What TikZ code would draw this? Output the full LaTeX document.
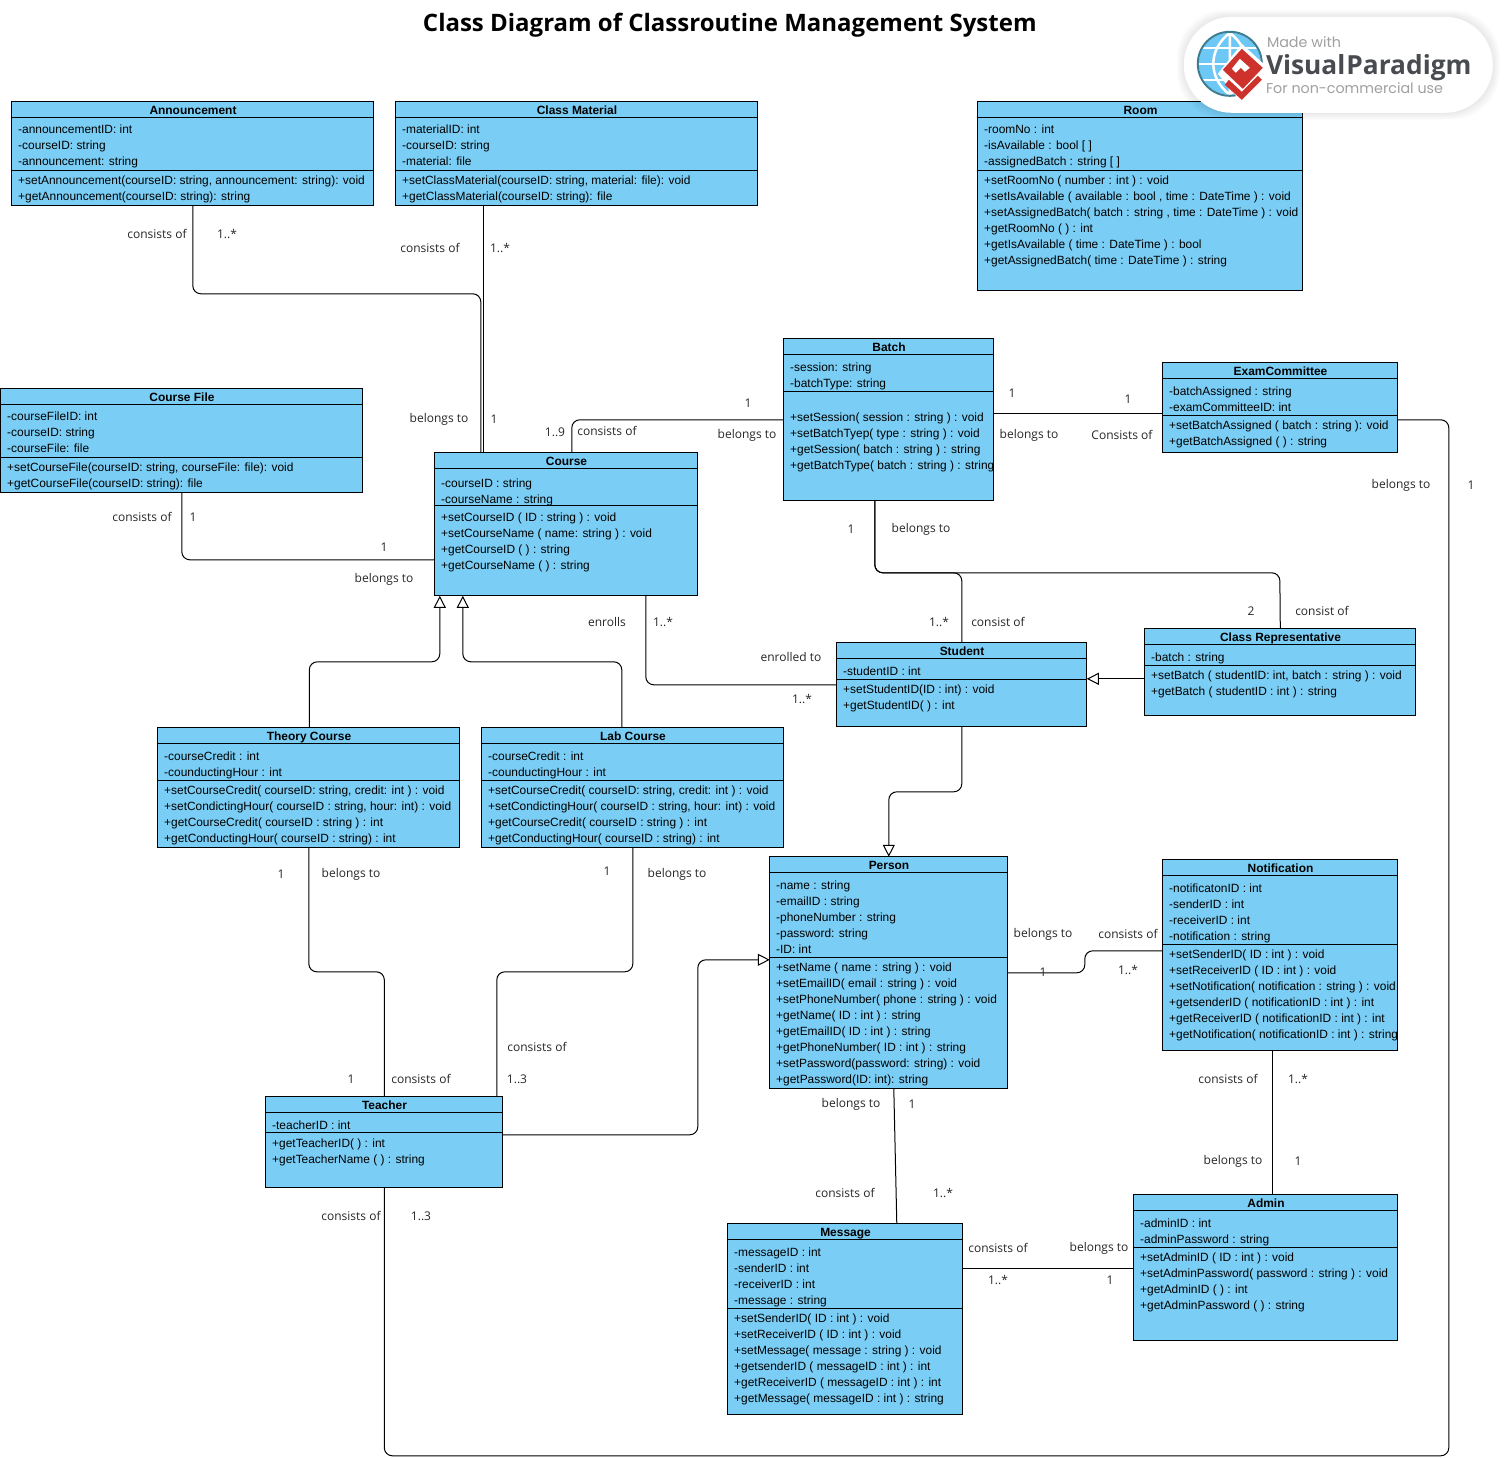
\documentclass[tikz,border=0pt]{standalone}
\usepackage{fontspec}
\setmainfont{Liberation Sans}
\newfontfamily\opensans{Open Sans}
\newfontfamily\wmfont{Poppins}
\usetikzlibrary{arrows.meta}
\definecolor{umlfill}{RGB}{122,206,245}
\definecolor{wmgrey}{RGB}{160,160,160}
\definecolor{wmdark}{RGB}{72,76,80}
\definecolor{wmred}{RGB}{205,50,45}
\definecolor{wmblue}{RGB}{110,200,245}
\definecolor{wmteal}{RGB}{60,125,145}
\tikzset{
  umlbox/.style={draw=black,line width=1pt,fill=umlfill,inner sep=0pt,outer sep=0pt,anchor=north west},
  divl/.style={draw=black,line width=1pt},
  ctitle/.style={font=\fontsize{11.95}{16}\selectfont\bfseries,inner sep=0pt,anchor=base,xshift=0.2pt,yshift=-0.2pt},
  ctext/.style={font=\fontsize{11.93}{16}\selectfont,inner sep=0pt,anchor=north west,align=left,xshift=0.2pt,yshift=-0.2pt},
  lab/.style={font=\opensans\fontsize{12}{14}\selectfont,inner sep=0pt,text=black!85,xshift=0.2pt,yshift=-1.2pt},
  conn/.style={draw=black,line width=1pt,rounded corners=8pt},
  gen/.style={conn,-{Triangle[open,fill=white,length=12pt,width=12pt,line width=1pt]}},
}
\def\cparse#1/#2/#3/#4/#5/#6/#7/#8\end{\def\cA{#1}\def\cT{#2}\def\cB{#3}\def\cD{#4}\def\ct{#5}\def\cd{#6}\def\cay{#7}\def\coy{#8}}
\newcommand{\umlclass}[5]{%
  \cparse#2\end
  \pgfmathsetmacro\cw{\cB-\cA}
  \pgfmathsetmacro\ch{\cD-\cT}
  \pgfmathsetmacro\tb{(\cT+\ct)/2+4.2}
  \pgfmathsetmacro\tx{\cA+6}
  \pgfmathsetmacro\aty{\cay+4.3-11.2}
  \pgfmathsetmacro\oty{\coy+4.3-11.2}
  \node[umlbox,minimum width=\cw pt,minimum height=\ch pt] (#1) at (\cA,\cT) {};
  \draw[divl] (#1.west |- 0,\ct) -- (#1.east |- 0,\ct);
  \draw[divl] (#1.west |- 0,\cd) -- (#1.east |- 0,\cd);
  \node[ctitle] (#1-title) at (#1.north |- 0,\tb) {#3};
  \node[ctext] (#1-attrs) at (\tx,\aty) {\strut #4};
  \node[ctext] (#1-ops) at (\tx,\oty) {\strut #5};
}
\begin{document}
\begin{tikzpicture}[x=1pt,y=-1pt]
\useasboundingbox (0,0) rectangle (1507,1458);
\begin{scope}[shift={(-0.2,-0.2)}]

\node[font=\opensans\fontsize{24}{28}\selectfont\bfseries,inner sep=0pt] (maintitle) at (730,25.2) {Class Diagram of Classroutine Management System};

\umlclass{announcement}{12/102/374/206/118/171/129/180}{Announcement}
 {-announcementID: int\\-courseID: string\\-announcement: string}
 {+setAnnouncement(courseID: string, announcement: string): void\\+getAnnouncement(courseID: string): string}
\umlclass{material}{396/102/758/206/118/171/129/180}{Class Material}
 {-materialID: int\\-courseID: string\\-material: file}
 {+setClassMaterial(courseID: string, material: file): void\\+getClassMaterial(courseID: string): file}
\umlclass{room}{978/102/1303/291/118/171/129/180}{Room}
 {-roomNo : int\\-isAvailable : bool [ ]\\-assignedBatch : string [ ]}
 {+setRoomNo ( number : int ) : void\\+setIsAvailable ( available : bool , time : DateTime ) : void\\+setAssignedBatch( batch : string , time : DateTime ) : void\\+getRoomNo ( ) : int\\+getIsAvailable ( time : DateTime ) : bool\\+getAssignedBatch( time : DateTime ) : string}
\umlclass{coursefile}{1/389/363/493/405/458/416/467}{Course File}
 {-courseFileID: int\\-courseID: string\\-courseFile: file}
 {+setCourseFile(courseID: string, courseFile: file): void\\+getCourseFile(courseID: string): file}
\umlclass{course}{435/453/698/596/469/506/482.5/517}{Course}
 {-courseID : string\\-courseName : string}
 {+setCourseID ( ID : string ) : void\\+setCourseName ( name: string ) : void\\+getCourseID ( ) : string\\+getCourseName ( ) : string}
\umlclass{batch}{784/339/994/501/355/392/367/417}{Batch}
 {-session: string\\-batchType: string}
 {+setSession( session : string ) : void\\+setBatchTyep( type : string ) : void\\+getSession( batch : string ) : string\\+getBatchType( batch : string ) : string}
\umlclass{exam}{1163/363/1398/453/379/416/391/425}{ExamCommittee}
 {-batchAssigned : string\\-examCommitteeID: int}
 {+setBatchAssigned ( batch : string ): void\\+getBatchAssigned ( ) : string}
\umlclass{student}{837/643/1087/727/659/680/671/689}{Student}
 {-studentID : int}
 {+setStudentID(ID : int) : void\\+getStudentID( ) : int}
\umlclass{classrep}{1145/629/1416/716/645/666/657/675}{Class Representative}
 {-batch : string}
 {+setBatch ( studentID: int, batch : string ) : void\\+getBatch ( studentID : int ) : string}
\umlclass{theory}{158/728/460/848/744/781/756/790}{Theory Course}
 {-courseCredit : int\\-counductingHour : int}
 {+setCourseCredit( courseID: string, credit: int ) : void\\+setCondictingHour( courseID : string, hour: int) : void\\+getCourseCredit( courseID : string ) : int\\+getConductingHour( courseID : string) : int}
\umlclass{lab}{482/728/784/848/744/781/756/790}{Lab Course}
 {-courseCredit : int\\-counductingHour : int}
 {+setCourseCredit( courseID: string, credit: int ) : void\\+setCondictingHour( courseID : string, hour: int) : void\\+getCourseCredit( courseID : string ) : int\\+getConductingHour( courseID : string) : int}
\umlclass{person}{770/857/1008/1089/873/958/885/967}{Person}
 {-name : string\\-emailID : string\\-phoneNumber : string\\-password: string\\-ID: int}
 {+setName ( name : string ) : void\\+setEmailID( email : string ) : void\\+setPhoneNumber( phone : string ) : void\\+getName( ID : int ) : string\\+getEmailID( ID : int ) : string\\+getPhoneNumber( ID : int ) : string\\+setPassword(password: string) : void\\+getPassword(ID: int): string}
\umlclass{notification}{1163/860/1398/1051/876/945/888/954}{Notification}
 {-notificatonID : int\\-senderID : int\\-receiverID : int\\-notification : string}
 {+setSenderID( ID : int ) : void\\+setReceiverID ( ID : int ) : void\\+setNotification( notification : string ) : void\\+getsenderID ( notificationID : int ) : int\\+getReceiverID ( notificationID : int ) : int\\+getNotification( notificationID : int ) : string}
\umlclass{teacher}{266/1097/503/1188/1113/1133/1125/1143}{Teacher}
 {-teacherID : int}
 {+getTeacherID( ) : int\\+getTeacherName ( ) : string}
\umlclass{message}{728/1224/963/1415/1240/1309/1252/1318}{Message}
 {-messageID : int\\-senderID : int\\-receiverID : int\\-message : string}
 {+setSenderID( ID : int ) : void\\+setReceiverID ( ID : int ) : void\\+setMessage( message : string ) : void\\+getsenderID ( messageID : int ) : int\\+getReceiverID ( messageID : int ) : int\\+getMessage( messageID : int ) : string}
\umlclass{admin}{1134/1195/1398/1341/1211/1248/1223/1257}{Admin}
 {-adminID : int\\-adminPassword : string}
 {+setAdminID ( ID : int ) : void\\+setAdminPassword( password : string ) : void\\+getAdminID ( ) : int\\+getAdminPassword ( ) : string}

% connectors
\draw[conn] (193,0 |- announcement.south) -- (193,294) -- (481,294) -- (481,0 |- course.north);
\draw[conn] (483.5,0 |- material.south) -- (483.5,0 |- course.north);
\draw[conn] (batch.west |- 0,420) -- (572,420) -- (572,0 |- course.north);
\draw[conn] (182,0 |- coursefile.south) -- (182,560) -- (course.west |- 0,560);
\draw[conn] (646,0 |- course.south) -- (646,685) -- (student.west |- 0,685);
\draw[gen] (309.5,0 |- theory.north) -- (309.5,662) -- (440,662) -- (440,0 |- course.south);
\draw[gen] (622,0 |- lab.north) -- (622,662) -- (463,662) -- (463,0 |- course.south);
\draw[conn] (student.north) -- (962,573) -- (875,573) -- (875,0 |- batch.south);
\draw[conn] (classrep.north) -- (1280,573) -- (875,573) -- (875,0 |- batch.south);
\draw[gen] (classrep.west |- 0,679) -- (student.east |- 0,679);
\draw[gen] (student.south) -- (962,792) -- (889,792) -- (person.north);
\draw[conn] (batch.east |- 0,414) -- (exam.west |- 0,414);
\draw[conn] (theory.south) -- (309,972) -- (384.5,972) -- (teacher.north);
\draw[conn] (lab.south) -- (633,972) -- (497,972) -- (497,0 |- teacher.north);
\draw[gen] (teacher.east |- 0,1135) -- (698,1135) -- (698,960) -- (person.west |- 0,960);
\draw[conn] (person.east |- 0,973) -- (1085,973) -- (1085,951) -- (notification.west |- 0,951);
\draw[conn] (894,0 |- person.south) -- (897,0 |- message.north);
\draw[conn] (1273,0 |- notification.south) -- (1273,0 |- admin.north);
\draw[conn] (message.east |- 0,1269) -- (admin.west |- 0,1269);
\draw[conn] (teacher.south) -- (384.5,1456) -- (1449,1456) -- (1449,420) -- (exam.east |- 0,420);

% connector labels
\foreach \x/\y/\t [count=\i] in {
157/233/consists of, 227/233/1..*, 430/247/consists of, 500/247/1..*,
439/418/belongs to, 494/418/1, 555/431/1..9, 607/430/consists of,
748/402/1, 747/434/belongs to, 1012/392/1, 1128/398/1, 1029/434/belongs to,
1122/434/Consists of, 1401/484/belongs to, 1471/484/1, 142/516/consists of,
193/516/1, 384/546/1, 384/578/belongs to, 851/528/1, 921/528/belongs to,
939/621/1..*, 998/621/consist of, 1251/610/2, 1322/610/consist of,
607/621/enrolls, 663/621/1..*, 791/656/enrolled to, 802/698/1..*,
281/873/1, 351/873/belongs to, 607/870/1, 677/873/belongs to,
1043/933/belongs to, 1128/933/consists of, 1043/971/1, 1128/969/1..*,
537/1046/consists of, 351/1078/1, 421/1078/consists of, 517/1078/1..3,
1228/1078/consists of, 1298/1078/1..*, 851/1103/belongs to, 912/1103/1,
1233/1160/belongs to, 1298/1160/1, 845/1192/consists of, 943/1192/1..*,
351/1215/consists of, 421/1215/1..3, 998/1247/consists of, 1099/1247/belongs to,
998/1279/1..*, 1110/1279/1}
{ \node[lab] (lbl\i) at (\x,\y) {\t}; }

% watermark
\foreach \g in {7,6,5,4,3,2,1}
  \fill[black,opacity=0.012,rounded corners=48pt] (1184-\g,17-\g) rectangle (1493+\g,113+\g);
\fill[white,rounded corners=48pt] (1184,17) rectangle (1493,113);
\fill[wmblue] (1230,64) circle (31);
\draw[white,line width=2.5pt] (1199,64) -- (1261,64) (1203,48) -- (1257,48) (1203,80) -- (1257,80);
\draw[white,line width=2.5pt] (1230,33) -- (1230,95) (1230,33) .. controls (1208,50) and (1208,78) .. (1230,95) (1230,33) .. controls (1252,50) and (1252,78) .. (1230,95);
\draw[wmteal,line width=2pt] (1230,64) circle (32);
\fill[white] (1242,44) -- (1268,68) -- (1242,103) -- (1218,74) -- cycle;
\fill[wmred] (1225,85) -- (1242,100) -- (1262,80) -- (1258,76) -- (1242,92) -- (1229,80) -- cycle;
\fill[wmred] (1242,49) -- (1263,68) -- (1243,89) -- (1223,70) -- cycle;
\fill[white] (1240,59) -- (1250,68) -- (1245,72) -- (1241,68) -- (1236,73) -- (1232,69) -- cycle;
\node[font=\wmfont\fontsize{14.3}{16}\selectfont,text=wmgrey,inner sep=0pt,anchor=base west] (wm1) at (1267,48) {Made with};
\node[font=\opensans\fontsize{26.3}{30}\selectfont\bfseries,text=wmdark,inner sep=0pt,anchor=base west] (wm2) at (1266,74.5) {Visual\hspace{1pt}Paradigm};
\node[font=\wmfont\fontsize{14.3}{16}\selectfont,text=wmgrey,inner sep=0pt,anchor=base west] (wm3) at (1266,93.5) {For non-commercial use};
\end{scope}
\end{tikzpicture}
\end{document}
